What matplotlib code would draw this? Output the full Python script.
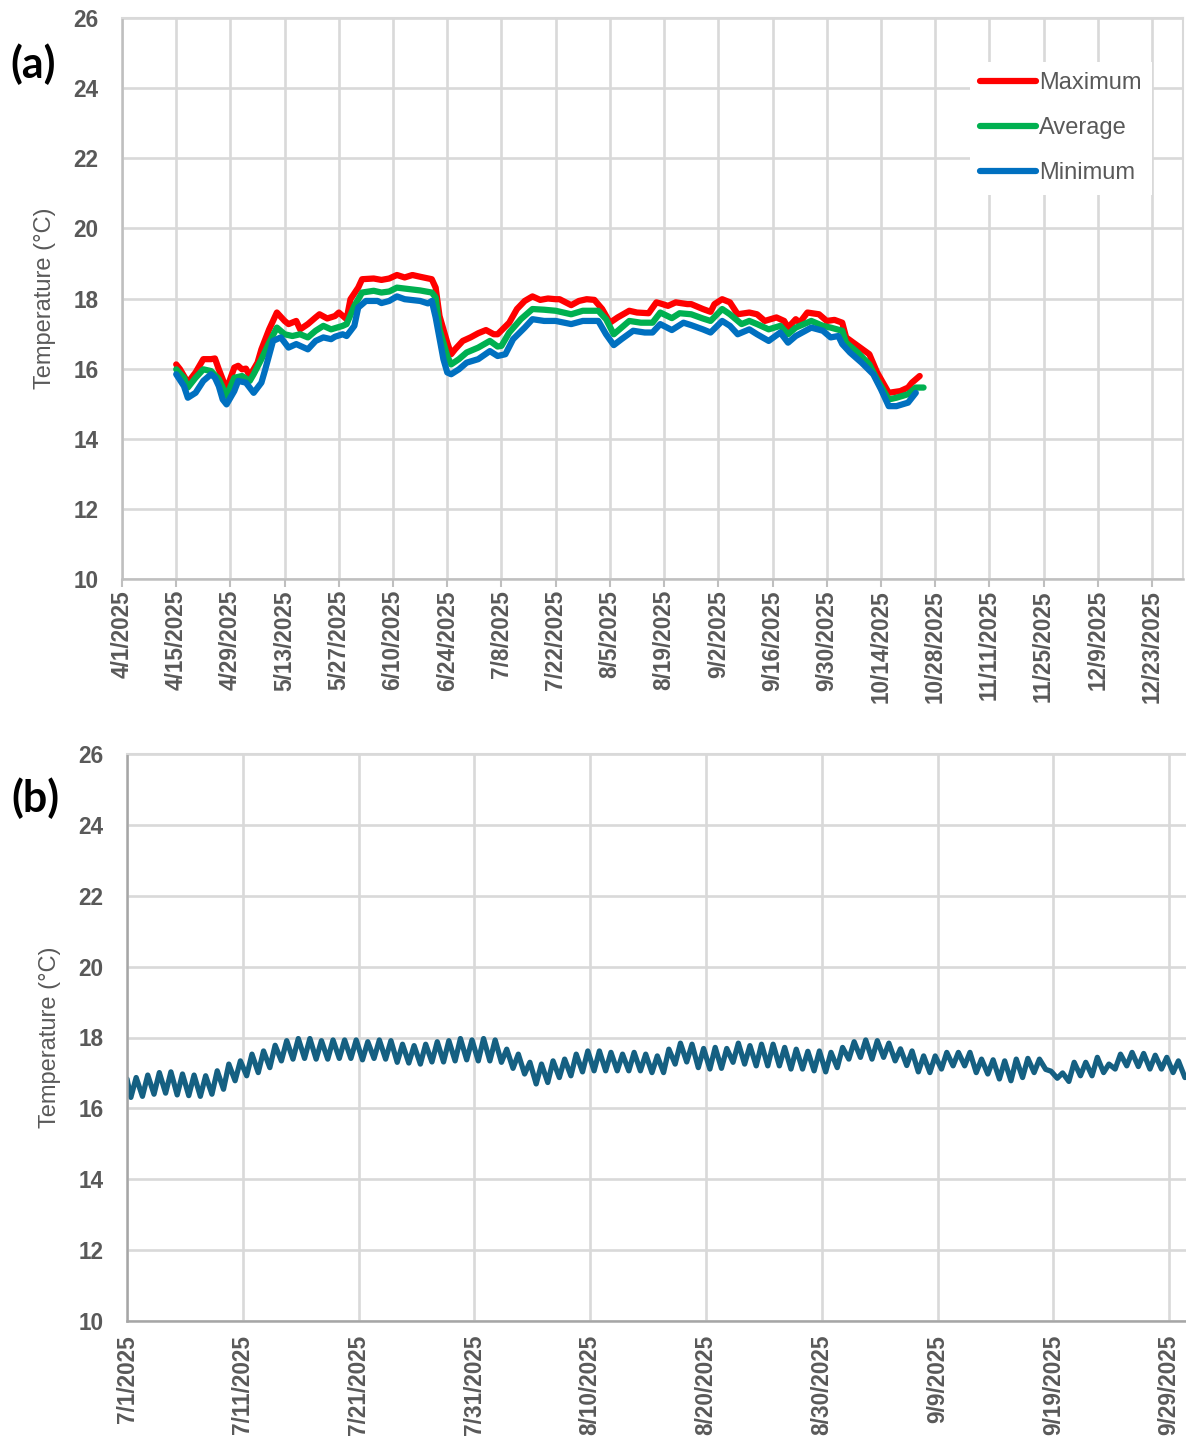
import datetime as dt
import numpy as np
import matplotlib
matplotlib.use("Agg")
import matplotlib.pyplot as plt
import matplotlib.dates as mdates

# ---------------- DATA ----------------
# Panel (a): daily temperature statistics, days counted from START_A
START_A = "4/15/2025"
MAX_DAYS = [0, 1, 3, 5, 7, 9, 10, 11, 13, 15, 16, 17, 18, 19, 21, 22, 24, 26, 28, 29, 31, 32, 34, 36, 37, 39,
            41, 42, 44, 45, 47, 48, 51, 53, 55, 57, 59, 61, 63, 66, 67, 68, 70, 71, 72, 74, 76, 78, 80, 82,
            83, 86, 88, 90, 92, 94, 96, 98, 99, 102, 104, 106, 108, 110, 112, 114, 117, 119, 122, 124, 125,
            127, 129, 132, 133, 136, 138, 139, 141, 143, 145, 148, 150, 152, 155, 157, 158, 160, 161, 163,
            166, 168, 170, 172, 173, 176, 179, 181, 184, 187, 189, 190, 192]
MAX_VALS = [16.12, 15.98, 15.60, 15.89, 16.27, 16.27, 16.29, 15.98, 15.41, 16.03, 16.08, 15.98, 16.00, 15.79,
            16.17, 16.55, 17.12, 17.60, 17.36, 17.27, 17.36, 17.12, 17.27, 17.46, 17.55, 17.43, 17.50, 17.60,
            17.41, 17.98, 18.31, 18.55, 18.57, 18.53, 18.57, 18.67, 18.60, 18.67, 18.62, 18.55, 18.31, 17.50,
            16.74, 16.41, 16.55, 16.79, 16.89, 17.01, 17.10, 16.98, 16.98, 17.31, 17.70, 17.93, 18.06, 17.96,
            18.00, 17.98, 17.98, 17.81, 17.93, 17.98, 17.96, 17.70, 17.31, 17.46, 17.65, 17.60, 17.58, 17.89,
            17.86, 17.79, 17.89, 17.84, 17.84, 17.70, 17.62, 17.84, 17.98, 17.89, 17.55, 17.60, 17.55, 17.36,
            17.46, 17.36, 17.17, 17.41, 17.31, 17.60, 17.55, 17.36, 17.39, 17.31, 16.89, 16.65, 16.41, 15.89,
            15.31, 15.36, 15.46, 15.60, 15.79]

AVG_DAYS = [0, 2, 3, 5, 7, 9, 11, 13, 15, 17, 19, 20, 22, 24, 26, 28, 30, 32, 34, 36, 38, 40, 43, 44, 46, 48,
            51, 53, 55, 57, 60, 63, 66, 67, 68, 70, 71, 73, 75, 78, 81, 83, 84, 86, 89, 92, 95, 98, 102, 105,
            109, 111, 113, 115, 117, 120, 123, 125, 128, 130, 133, 136, 138, 141, 143, 146, 148, 150, 153,
            156, 158, 160, 164, 167, 169, 172, 173, 176, 179, 181, 184, 186, 189, 191, 193]
AVG_VALS = [15.98, 15.74, 15.46, 15.74, 15.98, 15.93, 15.70, 15.22, 15.74, 15.79, 15.65, 15.84, 16.27, 16.74,
            17.17, 16.98, 16.93, 16.98, 16.89, 17.08, 17.22, 17.12, 17.22, 17.27, 17.79, 18.17, 18.22, 18.17,
            18.20, 18.31, 18.27, 18.23, 18.17, 18.03, 17.12, 16.36, 16.12, 16.27, 16.46, 16.60, 16.79, 16.63,
            16.65, 17.03, 17.41, 17.70, 17.68, 17.65, 17.55, 17.65, 17.65, 17.41, 16.98, 17.17, 17.36, 17.31,
            17.31, 17.60, 17.44, 17.58, 17.55, 17.43, 17.36, 17.70, 17.55, 17.27, 17.36, 17.27, 17.12, 17.22,
            16.98, 17.17, 17.36, 17.22, 17.17, 17.08, 16.74, 16.46, 16.12, 15.69, 15.12, 15.17, 15.27, 15.46,
            15.46]

MIN_DAYS = [0, 2, 3, 5, 7, 9, 10, 11, 12, 13, 15, 16, 18, 20, 22, 23, 25, 27, 29, 31, 32, 34, 36, 38, 40, 41,
            43, 44, 46, 47, 49, 52, 53, 55, 57, 59, 63, 65, 66, 67, 69, 70, 71, 73, 75, 78, 81, 83, 85, 87,
            90, 92, 95, 98, 102, 105, 109, 111, 113, 115, 118, 121, 123, 125, 128, 131, 133, 136, 138, 141,
            143, 145, 148, 150, 153, 156, 158, 160, 164, 167, 169, 171, 172, 174, 177, 180, 182, 184, 186,
            189, 190, 191]
MIN_VALS = [15.84, 15.50, 15.17, 15.31, 15.65, 15.84, 15.74, 15.50, 15.12, 14.98, 15.36, 15.65, 15.60, 15.31,
            15.60, 15.98, 16.79, 16.89, 16.60, 16.70, 16.65, 16.55, 16.79, 16.89, 16.84, 16.91, 16.98, 16.93,
            17.22, 17.74, 17.93, 17.93, 17.87, 17.93, 18.06, 17.98, 17.93, 17.86, 17.93, 17.46, 16.27, 15.89,
            15.84, 15.98, 16.17, 16.27, 16.50, 16.36, 16.41, 16.84, 17.17, 17.41, 17.36, 17.36, 17.27, 17.36,
            17.36, 16.98, 16.67, 16.84, 17.08, 17.03, 17.03, 17.27, 17.10, 17.31, 17.24, 17.12, 17.03, 17.36,
            17.22, 16.98, 17.12, 16.98, 16.79, 17.03, 16.74, 16.93, 17.17, 17.08, 16.89, 16.93, 16.70, 16.46,
            16.17, 15.84, 15.41, 14.93, 14.93, 15.03, 15.17, 15.31]

SERIES_A = ["Maximum", "Average", "Minimum"]
COLORS_A = ["#FF0000", "#00B050", "#0070C0"]

XLIM_A = ["4/1/2025", "12/31/2025"]
TICKS_A = ["4/1/2025", "4/15/2025", "4/29/2025", "5/13/2025", "5/27/2025", "6/10/2025", "6/24/2025",
           "7/8/2025", "7/22/2025", "8/5/2025", "8/19/2025", "9/2/2025", "9/16/2025", "9/30/2025",
           "10/14/2025", "10/28/2025", "11/11/2025", "11/25/2025", "12/9/2025", "12/23/2025"]

# Panel (b): daily low / high of the diurnal cycle, one entry per day starting START_B
START_B = "7/1/2025"
LOW_HOUR = 8
HIGH_HOUR = 19
B_FIRST = 16.83      # value at 7/1 00:00
B_LAST_TIME = "9/30/2025 08:30"
B_LAST = 16.87
DAILY_LOW = [16.31, 16.34, 16.40, 16.43, 16.38, 16.36, 16.34, 16.40, 16.54, 16.78,
             16.92, 17.01, 17.15, 17.34, 17.39, 17.41, 17.39, 17.39, 17.41, 17.41,
             17.37, 17.41, 17.39, 17.30, 17.28, 17.25, 17.31, 17.31, 17.34, 17.37,
             17.34, 17.34, 17.30, 17.13, 16.97, 16.69, 16.73, 16.87, 16.92, 17.03,
             17.06, 17.06, 17.06, 17.06, 17.06, 17.01, 17.01, 17.25, 17.31, 17.15,
             17.11, 17.13, 17.30, 17.25, 17.20, 17.20, 17.20, 17.11, 17.11, 17.06,
             17.03, 17.15, 17.39, 17.44, 17.39, 17.44, 17.34, 17.21, 17.03, 17.01,
             17.11, 17.20, 17.20, 17.01, 16.97, 16.83, 16.78, 16.87, 17.01, 17.10,
             16.85, 16.76, 16.92, 16.92, 17.01, 17.11, 17.20, 17.18, 17.11, 17.11,
             17.01]
DAILY_HIGH = [16.87, 16.94, 17.01, 17.03, 16.97, 16.94, 16.92, 17.06, 17.25, 17.34,
              17.53, 17.62, 17.78, 17.91, 17.97, 17.97, 17.91, 17.93, 17.93, 17.93,
              17.88, 17.93, 17.91, 17.81, 17.77, 17.81, 17.88, 17.91, 17.97, 17.93,
              17.97, 17.93, 17.67, 17.53, 17.30, 17.25, 17.34, 17.39, 17.53, 17.62,
              17.62, 17.58, 17.53, 17.58, 17.53, 17.48, 17.67, 17.84, 17.81, 17.69,
              17.72, 17.69, 17.84, 17.77, 17.81, 17.81, 17.72, 17.67, 17.61, 17.62,
              17.58, 17.72, 17.88, 17.93, 17.91, 17.84, 17.68, 17.62, 17.48, 17.48,
              17.58, 17.58, 17.58, 17.39, 17.37, 17.34, 17.39, 17.41, 17.39, 17.05,
              17.00, 17.30, 17.30, 17.44, 17.25, 17.53, 17.58, 17.55, 17.50, 17.44,
              17.34]
COLOR_B = "#156082"

XLIM_B = ["7/1/2025", "9/30/2025 10:45"]
TICKS_B = ["7/1/2025", "7/11/2025", "7/21/2025", "7/31/2025", "8/10/2025", "8/20/2025",
           "8/30/2025", "9/9/2025", "9/19/2025", "9/29/2025"]

Y_TICKS = [10, 12, 14, 16, 18, 20, 22, 24, 26]
Y_LABEL = "Temperature (°C)"


def d(s):
    fmt = "%m/%d/%Y %H:%M" if ":" in s else "%m/%d/%Y"
    return mdates.date2num(dt.datetime.strptime(s, fmt))


# ---------------- FIGURE ----------------
W, H = 1186, 1439
fig = plt.figure(figsize=(W / 100, H / 100), dpi=100)
FONT = "Liberation Sans"
GRAY = "#595959"
GRID = "#D9D9D9"
SPINE = "#BFBFBF"

axa = fig.add_axes([122 / W, 1 - 579 / H, 1061 / W, 561 / H])
axb = fig.add_axes([127 / W, 1 - 1321 / H, 1059 / W, 567 / H])

# ---- panel (a)
s0 = d(START_A)
for name, col, days, vals in zip(SERIES_A, COLORS_A,
                                  [MAX_DAYS, AVG_DAYS, MIN_DAYS],
                                  [MAX_VALS, AVG_VALS, MIN_VALS]):
    axa.plot(s0 + np.array(days), vals, color=col, lw=4.5, label=name,
             solid_joinstyle="round", solid_capstyle="round")

axa.set_xlim(d(XLIM_A[0]), d(XLIM_A[1]))
axa.set_xticks([d(t) for t in TICKS_A])
axa.set_xticklabels(TICKS_A, rotation=90)
axa.tick_params(axis="x", length=6, width=1.5, color=SPINE, pad=2)

leg = axa.legend(loc="upper left", bbox_to_anchor=(958 / W, 1 - 50 / H),
                 bbox_transform=fig.transFigure, frameon=True, facecolor="white",
                 edgecolor="none", framealpha=1, fancybox=False, borderpad=0.45,
                 handlelength=2.35, handletextpad=0.12, labelspacing=0.97,
                 prop={"family": FONT, "size": 17})
for t in leg.get_texts():
    t.set_color(GRAY)

# ---- panel (b)
b0 = d(START_B)
tb = [b0]
vb = [B_FIRST]
for i, (lo, hi) in enumerate(zip(DAILY_LOW, DAILY_HIGH)):
    tb += [b0 + i + LOW_HOUR / 24, b0 + i + HIGH_HOUR / 24]
    vb += [lo, hi]
tb.append(d(B_LAST_TIME))
vb.append(B_LAST)
axb.plot(tb, vb, color=COLOR_B, lw=3.8, solid_joinstyle="round", solid_capstyle="round")

axb.set_xlim(d(XLIM_B[0]), d(XLIM_B[1]))
axb.set_xticks([d(t) for t in TICKS_B])
axb.set_xticklabels(TICKS_B, rotation=90)
axb.tick_params(axis="x", length=0, pad=10)

# ---- shared styling
for ax in (axa, axb):
    ax.set_ylim(10, 26)
    ax.set_yticks(Y_TICKS)
    ax.tick_params(axis="y", length=0, pad=17)
    ax.set_axisbelow(True)
    ax.grid(True, color=GRID, lw=1.9)
    for lab in ax.get_xticklabels() + ax.get_yticklabels():
        lab.set_fontfamily(FONT)
        lab.set_fontweight("bold")
        lab.set_fontsize(16.3)
        lab.set_color(GRAY)
    for side in ("left", "bottom"):
        ax.spines[side].set_color(SPINE)
        ax.spines[side].set_linewidth(1.8)
    for side in ("top", "right"):
        ax.spines[side].set_color(GRID)
        ax.spines[side].set_linewidth(1.5)
axb.spines["right"].set_visible(False)
axb.spines["left"].set_color("#A6A6A6")
axb.spines["bottom"].set_color("#A6A6A6")

fig.text(45 / W, 1 - 298 / H, Y_LABEL, rotation=90, ha="center", va="center",
         family=FONT, size=17, color=GRAY)
fig.text(50 / W, 1 - 1037 / H, Y_LABEL, rotation=90, ha="center", va="center",
         family=FONT, size=17, color=GRAY)

fig.text(33 / W, 1 - 64 / H, "(a)", ha="center", va="center",
         family="Lato", weight="bold", size=31, color="black")
fig.text(35 / W, 1 - 798 / H, "(b)", ha="center", va="center",
         family="Lato", weight="bold", size=31, color="black")

fig.savefig("out.png", dpi=100, facecolor="white")
